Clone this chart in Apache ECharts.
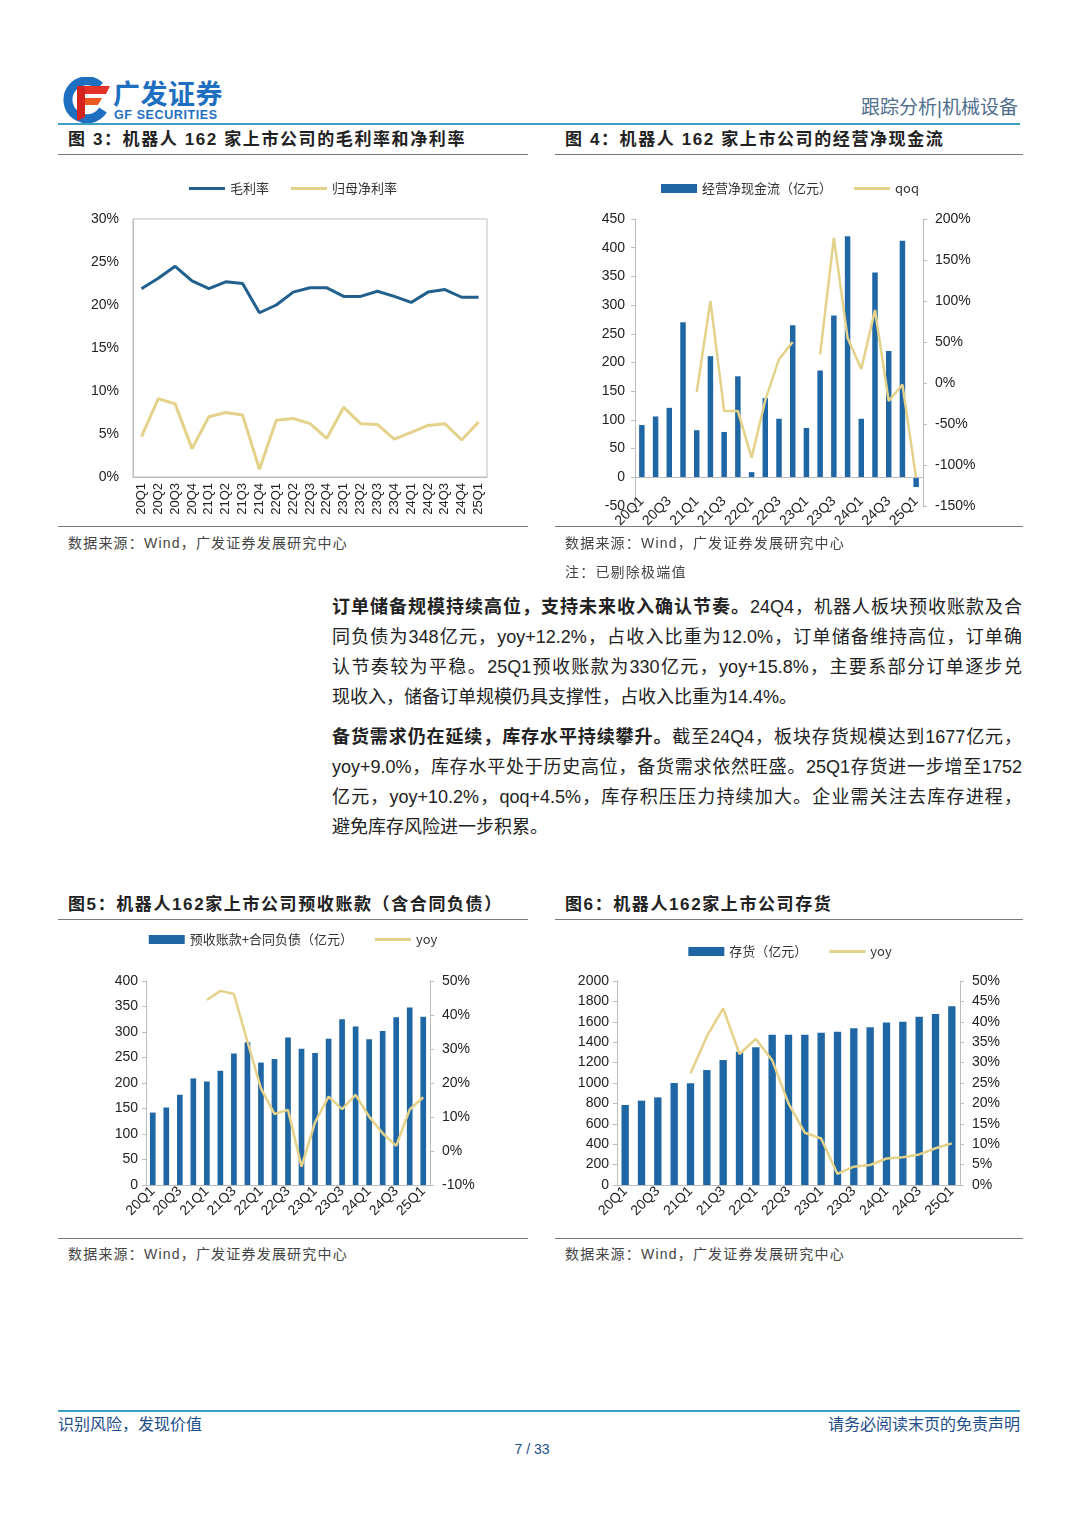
<!DOCTYPE html>
<html><head><meta charset="utf-8">
<script src="https://cdn.jsdelivr.net/npm/echarts@6/dist/echarts.min.js"></script>
<style>
html,body{margin:0;padding:0;background:#fff;}
body{width:1080px;height:1527px;position:relative;overflow:hidden;font-family:"Liberation Sans","Noto Sans CJK SC",sans-serif;color:#222;}
.abs{position:absolute;white-space:nowrap;}
.hl{position:absolute;height:0;}
.title{font-size:17px;font-weight:bold;letter-spacing:1.6px;color:#222;line-height:20px;}
.src{font-size:14px;letter-spacing:1.2px;color:#444;line-height:18px;}
.para{position:absolute;left:332px;width:690px;font-size:18px;color:#222;}
.para div{height:30px;line-height:30px;text-align:justify;text-align-last:justify;white-space:normal;}
.para div.last{text-align-last:left;}
.para b{font-weight:bold;}
.chart{position:absolute;}
</style></head>
<body>
<!-- header -->
<svg class="abs" style="left:60px;top:77px" width="52" height="46" viewBox="0 0 52 46">
  <path d="M40 9 A19 19 0 1 0 43 33" stroke="#1f6fc1" stroke-width="9" fill="none"/>
  <polygon points="17,9 50,9 46,17 17,17" fill="#e2322a"/>
  <polygon points="17,21 42,21 38,28 17,28" fill="#ea5a20"/>
  <polygon points="17,9 25,9 25,40 17,44" fill="#d3251d"/>
</svg>
<div class="abs" style="left:113px;top:80px;font-size:27px;font-weight:bold;color:#1f6fc1;letter-spacing:0.5px;line-height:30px;">广发证券</div>
<div class="abs" style="left:114px;top:108px;font-size:12.5px;font-weight:bold;color:#1f6fc1;letter-spacing:0.6px;line-height:14px;">GF SECURITIES</div>
<div class="abs" style="right:62px;top:96px;font-size:19px;color:#4f6f8e;line-height:24px;">跟踪分析|机械设备</div>
<div class="hl" style="left:58px;width:962px;top:123px;border-top:2px solid #3aa0c8;"></div>

<div class="abs title" style="left:68px;top:130px;">图 3：机器人 162 家上市公司的毛利率和净利率</div>
<div class="abs title" style="left:565px;top:130px;">图 4：机器人 162 家上市公司的经营净现金流</div>
<div class="hl" style="left:58px;width:470px;top:154px;border-top:1.5px solid #7a7a7a;"></div>
<div class="hl" style="left:555px;width:468px;top:154px;border-top:1.5px solid #7a7a7a;"></div>

<div id="c3" class="chart" style="left:58px;top:165px;width:470px;height:360px;"></div>
<div id="c4" class="chart" style="left:555px;top:165px;width:470px;height:372px;"></div>

<div class="hl" style="left:58px;width:470px;top:526px;border-top:1.5px solid #7a7a7a;"></div>
<div class="hl" style="left:555px;width:468px;top:526px;border-top:1.5px solid #7a7a7a;"></div>
<div class="abs src" style="left:68px;top:534px;">数据来源：Wind，广发证券发展研究中心</div>
<div class="abs src" style="left:565px;top:534px;">数据来源：Wind，广发证券发展研究中心</div>
<div class="abs src" style="left:565px;top:563px;">注：已剔除极端值</div>

<div class="para" style="top:592px;">
<div><b>订单储备规模持续高位，支持未来收入确认节奏。</b>24Q4，机器人板块预收账款及合</div>
<div>同负债为348亿元，yoy+12.2%，占收入比重为12.0%，订单储备维持高位，订单确</div>
<div>认节奏较为平稳。25Q1预收账款为330亿元，yoy+15.8%，主要系部分订单逐步兑</div>
<div class="last">现收入，储备订单规模仍具支撑性，占收入比重为14.4%。</div>
</div>
<div class="para" style="top:722px;">
<div><b>备货需求仍在延续，库存水平持续攀升。</b>截至24Q4，板块存货规模达到1677亿元，</div>
<div>yoy+9.0%，库存水平处于历史高位，备货需求依然旺盛。25Q1存货进一步增至1752</div>
<div>亿元，yoy+10.2%，qoq+4.5%，库存积压压力持续加大。企业需关注去库存进程，</div>
<div class="last">避免库存风险进一步积累。</div>
</div>

<div class="abs title" style="left:68px;top:895px;">图5：机器人162家上市公司预收账款（含合同负债）</div>
<div class="abs title" style="left:565px;top:895px;">图6：机器人162家上市公司存货</div>
<div class="hl" style="left:58px;width:470px;top:919px;border-top:1.5px solid #7a7a7a;"></div>
<div class="hl" style="left:555px;width:468px;top:919px;border-top:1.5px solid #7a7a7a;"></div>

<div id="c5" class="chart" style="left:58px;top:925px;width:470px;height:310px;"></div>
<div id="c6" class="chart" style="left:555px;top:925px;width:470px;height:310px;"></div>

<div class="hl" style="left:58px;width:470px;top:1238px;border-top:1.5px solid #7a7a7a;"></div>
<div class="hl" style="left:555px;width:468px;top:1238px;border-top:1.5px solid #7a7a7a;"></div>
<div class="abs src" style="left:68px;top:1245px;">数据来源：Wind，广发证券发展研究中心</div>
<div class="abs src" style="left:565px;top:1245px;">数据来源：Wind，广发证券发展研究中心</div>

<!-- footer -->
<div class="hl" style="left:58px;width:962px;top:1410px;border-top:2px solid #3aa0c8;"></div>
<div class="abs" style="left:58px;top:1415px;font-size:16px;color:#1d4e89;line-height:20px;">识别风险，发现价值</div>
<div class="abs" style="right:60px;top:1415px;font-size:16px;color:#1d4e89;line-height:20px;">请务必阅读末页的免责声明</div>
<div class="abs" style="left:512px;top:1440px;width:40px;text-align:center;font-size:14px;color:#1d4e89;line-height:18px;">7 / 33</div>

<script>
// ---------- data ----------
const quarters = ['20Q1','20Q2','20Q3','20Q4','21Q1','21Q2','21Q3','21Q4','22Q1','22Q2','22Q3','22Q4','23Q1','23Q2','23Q3','23Q4','24Q1','24Q2','24Q3','24Q4','25Q1'];
// Fig 3 (%)
const grossMargin = [21.9,23.1,24.5,22.8,21.9,22.7,22.5,19.1,20.0,21.5,22.0,22.0,21.0,21.0,21.6,21.0,20.3,21.5,21.8,20.9,20.9];
const netMargin   = [4.7,9.1,8.5,3.3,7.0,7.5,7.2,0.9,6.6,6.8,6.2,4.5,8.1,6.2,6.1,4.4,5.2,6.0,6.2,4.3,6.4];
// Fig 4
const opCashFlow = [91,106,121,270,82,211,79,176,9,138,102,265,86,186,282,420,102,357,220,412,-17];
const cashQoq    = [null,null,null,null,-11,100,-34,-34,-91,-21,29,50,null,35,177,55,17,89,-22,-2,-116];
// Fig 5
const advReceipts = [142,152,177,209,203,224,258,280,240,247,289,267,259,287,325,311,286,302,329,348,330];
const advYoy      = [null,null,null,null,44.4,47.1,46.2,32.2,18.4,10.9,12.1,-4.6,8.4,16.0,12.3,16.5,10.1,5.2,1.5,12.2,15.8];
// Fig 6
const inventory = [784,827,859,1000,997,1127,1225,1307,1350,1474,1474,1474,1493,1503,1536,1546,1592,1601,1650,1677,1752];
const invYoy    = [null,null,null,null,27.4,36.4,43.3,32.1,35.8,30.6,20.0,12.8,11.4,2.7,4.5,4.9,6.5,6.8,7.5,9.0,10.2];

// ---------- styles ----------
const CN = '"Noto Sans CJK SC", sans-serif';
const NUM = '"Liberation Sans", Arial, sans-serif';
const BLUE_BAR = '#1f67a4';
const BLUE_LINE = '#215f8d';
const YELLOW = '#e4d18a';
const AXIS = '#bdbdbd';
const TXT = '#222';
const LINE_ICON = 'path://M0,0L36,0L36,3L0,3Z';

function legendCfg(top){
  return {top:top,left:'center',itemWidth:36,itemHeight:9,itemGap:22,
    textStyle:{fontSize:13,color:'#333',fontFamily:CN}};
}
function valAxis(min,max,interval,pct,pos,margin){
  return {type:'value',position:pos,min:min,max:max,interval:interval,
    axisLine:{show:true,lineStyle:{color:AXIS,width:1}},
    axisTick:{show:true,length:4,lineStyle:{color:AXIS}},
    splitLine:{show:false},
    axisLabel:{fontSize:14,color:TXT,fontFamily:NUM,margin:margin,formatter:function(v){return pct?v+'%':String(v);}}};
}
function catAxis(showLine,margin){
  return {type:'category',data:quarters,boundaryGap:true,
    axisLine:{show:showLine,lineStyle:{color:AXIS}},axisTick:{show:false},
    axisLabel:{interval:1,rotate:45,fontSize:14,color:TXT,fontFamily:NUM,margin:margin}};
}

// Fig 3
echarts.init(document.getElementById('c3')).setOption({
  animation:false,
  legend:Object.assign(legendCfg(12),{data:[{name:'毛利率',icon:LINE_ICON},{name:'归母净利率',icon:LINE_ICON}]}),
  grid:{left:75,right:41,top:54,bottom:48,show:true,borderColor:AXIS,borderWidth:1,outerBoundsMode:'none'},
  xAxis:{type:'category',data:quarters,boundaryGap:true,
    axisLine:{show:true,lineStyle:{color:AXIS}},axisTick:{show:false},
    axisLabel:{interval:0,rotate:90,fontSize:13,color:TXT,fontFamily:NUM,margin:6}},
  yAxis:{type:'value',min:0,max:30,interval:5,splitLine:{show:false},
    axisLine:{show:true,lineStyle:{color:AXIS}},axisTick:{show:false},
    axisLabel:{fontSize:14,color:TXT,fontFamily:NUM,margin:14,formatter:function(v){return v+'%';}}},
  series:[
    {name:'毛利率',type:'line',data:grossMargin,symbol:'none',lineStyle:{color:BLUE_LINE,width:3},itemStyle:{color:BLUE_LINE}},
    {name:'归母净利率',type:'line',data:netMargin,symbol:'none',lineStyle:{color:YELLOW,width:3},itemStyle:{color:YELLOW}}
  ]
});

// Fig 4
echarts.init(document.getElementById('c4')).setOption({
  animation:false,
  legend:Object.assign(legendCfg(12),{data:[{name:'经营净现金流（亿元）',icon:'rect'},{name:'qoq',icon:LINE_ICON}]}),
  grid:{left:80,right:102,top:54,bottom:31,outerBoundsMode:'none'},
  xAxis:catAxis(false,-7),
  yAxis:[valAxis(-50,450,50,false,'left',10),valAxis(-150,200,50,true,'right',12)],
  series:[
    {name:'经营净现金流（亿元）',type:'bar',data:opCashFlow,barWidth:'40%',itemStyle:{color:BLUE_BAR},
      markLine:{silent:true,symbol:'none',label:{show:false},lineStyle:{color:AXIS,type:'solid',width:1},data:[{yAxis:0}]}},
    {name:'qoq',type:'line',yAxisIndex:1,data:cashQoq,symbol:'none',connectNulls:false,lineStyle:{color:YELLOW,width:2.5},itemStyle:{color:YELLOW}}
  ]
});

// Fig 5
echarts.init(document.getElementById('c5')).setOption({
  animation:false,
  legend:Object.assign(legendCfg(3),{data:[{name:'预收账款+合同负债（亿元）',icon:'rect'},{name:'yoy',icon:LINE_ICON}]}),
  grid:{left:88,right:98,top:56,bottom:50,outerBoundsMode:'none'},
  xAxis:catAxis(true,4),
  yAxis:[valAxis(0,400,50,false,'left',8),valAxis(-10,50,10,true,'right',12)],
  series:[
    {name:'预收账款+合同负债（亿元）',type:'bar',data:advReceipts,barWidth:'42%',itemStyle:{color:BLUE_BAR}},
    {name:'yoy',type:'line',yAxisIndex:1,data:advYoy,symbol:'none',lineStyle:{color:YELLOW,width:2.5},itemStyle:{color:YELLOW}}
  ]
});

// Fig 6
echarts.init(document.getElementById('c6')).setOption({
  animation:false,
  legend:Object.assign(legendCfg(15),{data:[{name:'存货（亿元）',icon:'rect'},{name:'yoy',icon:LINE_ICON}]}),
  grid:{left:62,right:65,top:56,bottom:50,outerBoundsMode:'none'},
  xAxis:catAxis(true,4),
  yAxis:[valAxis(0,2000,200,false,'left',8),valAxis(0,50,5,true,'right',12)],
  series:[
    {name:'存货（亿元）',type:'bar',data:inventory,barWidth:'45%',itemStyle:{color:BLUE_BAR}},
    {name:'yoy',type:'line',yAxisIndex:1,data:invYoy,symbol:'none',lineStyle:{color:YELLOW,width:2.5},itemStyle:{color:YELLOW}}
  ]
});
</script>
</body></html>
